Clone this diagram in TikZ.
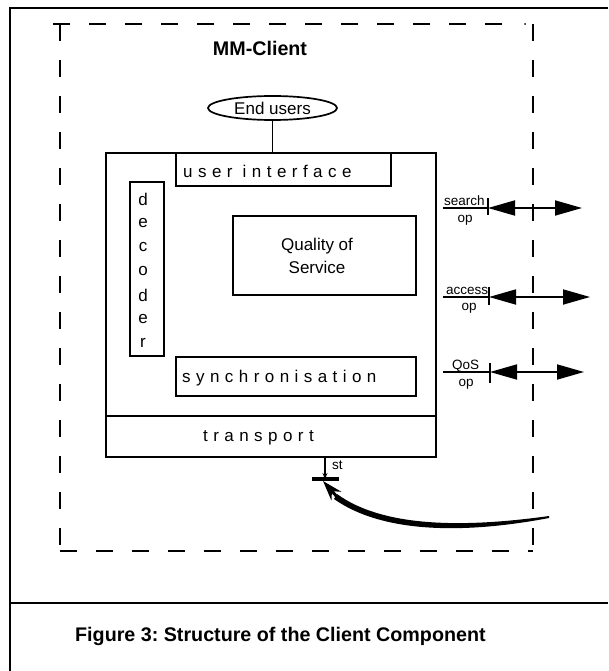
\documentclass[tikz,border=0pt]{standalone}
\usepackage{fontspec}
\setmainfont{Liberation Sans}
\usetikzlibrary{arrows.meta,shapes.geometric}
\frenchspacing

% text sizes used in the figure
\newcommand\normalpx{\fontsize{17pt}{23pt}\selectfont}
\newcommand\smallpx{\fontsize{13.5pt}{15pt}\selectfont}
\newcommand\boldpx{\fontsize{19.7pt}{22pt}\selectfont\bfseries}
\newcommand\spacedtext{\addfontfeature{LetterSpace=32}}

\begin{document}
\begin{tikzpicture}[x=1pt,y=-1pt,
  frame/.style={line width=2.2pt},
  boundary/.style={line width=2pt, dash pattern=on 17pt off 19pt},
  box/.style={draw, line width=1.7pt, inner sep=0pt, anchor=north west},
  txt/.style={inner sep=0pt, font=\normalpx},
  lbl/.style={inner sep=0pt, font=\smallpx},
  port/.style={line width=1.7pt},
  dbl/.style={line width=1.8pt,
    {Triangle[length=27pt,width=15pt]}-{Triangle[length=27pt,width=15pt]}},
]
\useasboundingbox (0,0) rectangle (608,671);

% outer frame and caption separator
\draw[frame] (608,8) -- (10,8) -- (10,671);
\draw[frame] (10,603) -- (608,603);

% dashed component boundary
\draw[boundary] (53,24) -- (510,24);
\fill (525,24) circle (1pt);
\draw[boundary] (60,24) -- (60,551);
\draw[boundary] (60,551) -- (533,551);
\draw[boundary] (533,24) -- (533,551);

\node[font=\boldpx, inner sep=0pt] (title) at (260,48) {MM-Client};

% end users
\node[draw, ellipse, line width=1.7pt, minimum width=129pt, minimum height=24pt,
      inner sep=0pt, font=\normalpx] (users) at (272.5,108) {End users};

% main client box and its parts
\node[box, minimum width=330pt, minimum height=304pt] (main) at (105,152) {};
\draw[line width=1.7pt] (main.west |- 0,416) coordinate (trw) -- (437,416) coordinate (tre);
\draw[line width=1.7pt] (users.south) -- (users.south |- main.north);

\node[box, minimum width=215pt, minimum height=33pt] (ui) at (175,152) {};
\node[txt, anchor=west] (uitxt) at (183,171) {\spacedtext user interface};

\node[box, minimum width=34pt, minimum height=174pt] (dec) at (129,181) {};
\foreach \c [count=\i] in {d,e,c,o,d,e,r}
  \node[txt] (dec\i) at (143,{199+24*(\i-1)}) {\c};

\node[box, minimum width=183pt, minimum height=79pt] (qos) at (232,215) {};
\node[txt, align=center] (qostxt) at (317,255.5) {Quality of\\Service};

\node[box, minimum width=240pt, minimum height=39pt] (sync) at (175,356) {};
\node[txt, anchor=west] (synctxt) at (182,378) {\spacedtext synchronisation};

\node[txt, anchor=west] (trtxt) at (203,438) {\spacedtext transport};

% operation ports
\coordinate (s0) at (443,208);
\coordinate (stk) at (488,208);
\coordinate (se) at (582,208);
\draw[port] (s0) -- (stk);
\draw[port] (488,198) -- (488,215);
\draw[dbl] (stk) -- (se);
\node[lbl, anchor=base west] (slbl) at (444,205.5) {search};
\node[lbl] (sop) at (465,220) {op};

\coordinate (a0) at (443,297);
\coordinate (atk) at (489,297);
\coordinate (ae) at (590,297);
\draw[port] (a0) -- (atk);
\draw[port] (489,287) -- (489,305);
\draw[dbl] (atk) -- (ae);
\node[lbl, anchor=base west] (albl) at (446,294.5) {access};
\node[lbl] (aop) at (469,308) {op};

\coordinate (q0) at (443,372);
\coordinate (qtk) at (490,372);
\coordinate (qe) at (584,372);
\draw[port] (q0) -- (qtk);
\draw[port] (490,363) -- (490,383);
\draw[dbl] (qtk) -- (qe);
\node[lbl, anchor=base west] (qlbl) at (452,369.5) {QoS};
\node[lbl] (qop) at (466,384) {op};

% stream port and incoming stream
\coordinate (stout) at (325,456);
\coordinate (stbar) at (325,479);
\draw[line width=2.8pt, -{Stealth[length=6pt,width=5pt]}] (stout) -- (stbar);
\draw[line width=3.2pt] (312,479) -- (339,479);
\node[lbl, anchor=west] (stlbl) at (332,465) {st};

\coordinate (stin) at (549,516);
\coordinate (sttip) at (323,481);
\fill (stin) .. controls (470,527) and (385,529) .. (337,494)
      -- (334,499) .. controls (385,535) and (470,533) .. (549,518) -- cycle;
\draw[line width=3pt, -{Stealth[length=20pt,width=13pt]}] (338,498) -- (sttip);

% caption
\node[font=\boldpx, inner sep=0pt, anchor=west] (caption) at (75,636)
  {Figure 3: Structure of the Client Component};
\end{tikzpicture}
\end{document}
